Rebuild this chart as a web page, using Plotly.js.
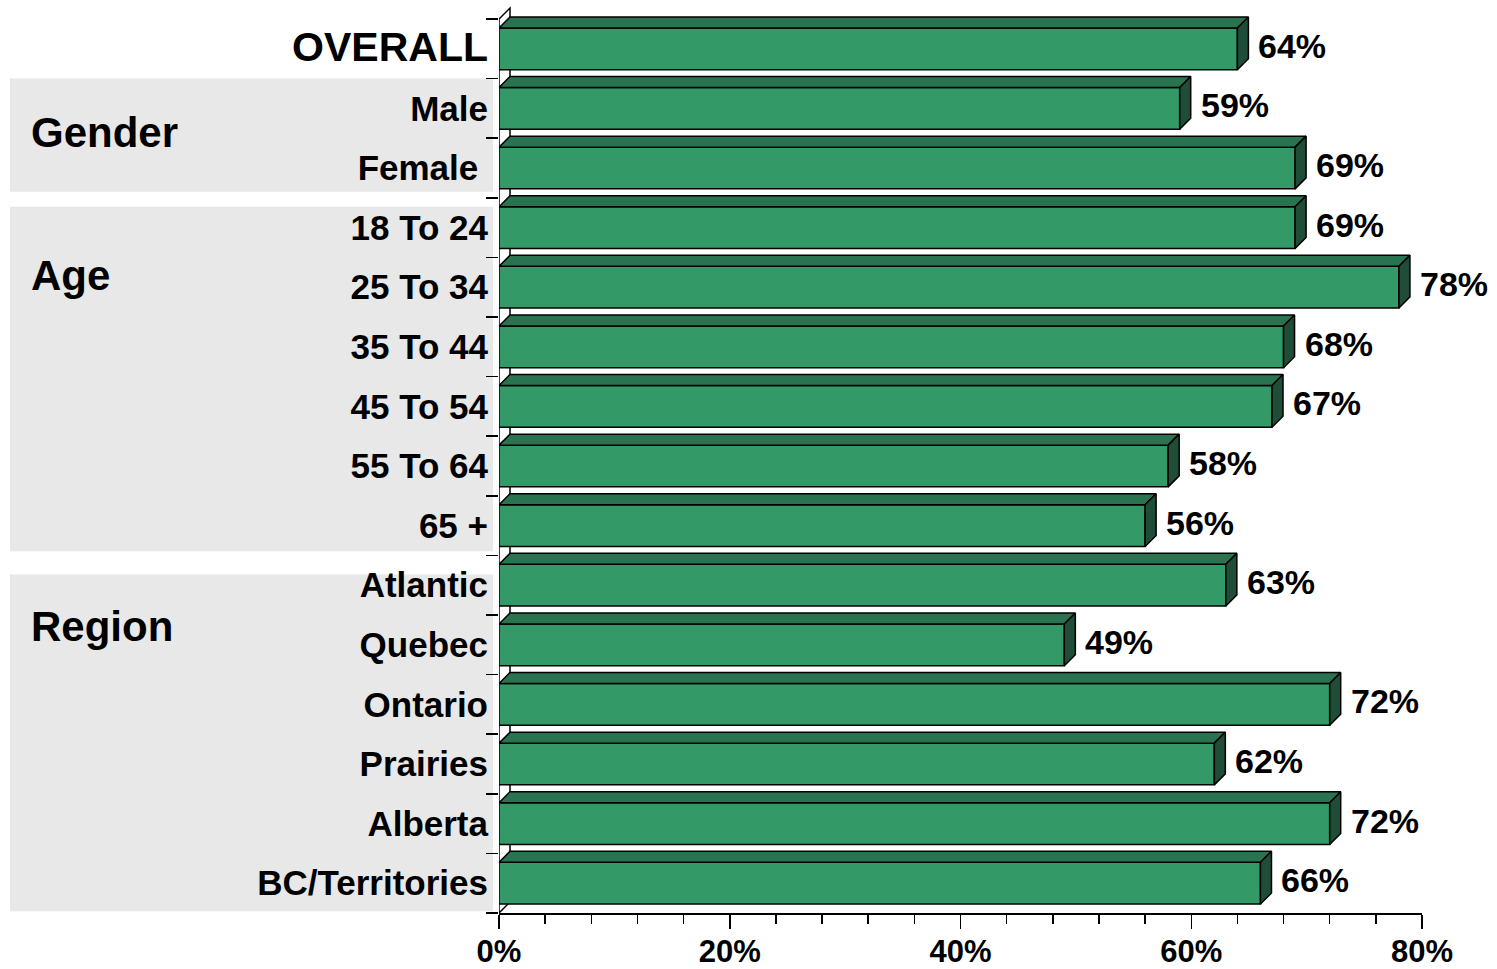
<!DOCTYPE html>
<html>
<head>
<meta charset="utf-8">
<script src="https://cdn.plot.ly/plotly-3.0.1.min.js"></script>
<style>html,body{margin:0;padding:0;background:#fff;}#chart{width:1497px;height:969px;}</style>
</head>
<body>
<div id="chart"></div>
<script>
// ---- data ----
const categories = ['OVERALL','Male','Female\u00a0','18 To 24','25 To 34','35 To 44','45 To 54','55 To 64','65 +','Atlantic','Quebec','Ontario','Prairies','Alberta','BC/Territories'];
const values = [64,59,69,69,78,68,67,58,56,63,49,72,62,72,66];
const valueLabels = ['64%','59%','69%','69%','78%','68%','67%','58%','56%','63%','49%','72%','62%','72%','66%'];
const groupNames = ['Gender','Age','Region'];
const groupFirst = [1,3,9];
const groupLast = [2,8,14];
const xTicks = [0,20,40,60,80];

// ---- layout geometry ----
const W = 1497, H = 969;
const M = {l:499, r:75, t:6, b:56};
const plotW = W - M.l - M.r;
const plotH = H - M.t - M.b;
const xMax = 80;
const yBottom = 14.5;
const unitY = 894/15;
const yTop = -0.5 - 13/unitY;
const depthPx = 11;
const dx = depthPx * xMax / plotW;
const dy = depthPx * (yBottom - yTop) / plotH;
const half = 0.35;
const FONT = 'Liberation Sans, Arial, sans-serif';

const idx = categories.map((c,i)=>i);

// 3D faces built from the data
const topX = [], topY = [], sideX = [], sideY = [];
values.forEach((v,i)=>{
  const yt = i - half, yb = i + half;
  topX.push(0, v, v+dx, dx, 0, null);
  topY.push(yt, yt, yt-dy, yt-dy, yt, null);
  sideX.push(v, v+dx, v+dx, v, v, null);
  sideY.push(yt, yt-dy, yb-dy, yb, yt, null);
});

const traces = [
  {type:'bar', orientation:'h', x:values, y:idx, width:0.7,
   marker:{color:'#339966', line:{color:'#000', width:1.5}}, hoverinfo:'skip'},
  {type:'scatter', mode:'lines', x:topX, y:topY, fill:'toself', fillcolor:'#2a7350',
   line:{color:'#000', width:1.5}, hoverinfo:'skip'},
  {type:'scatter', mode:'lines', x:sideX, y:sideY, fill:'toself', fillcolor:'#1f4d37',
   line:{color:'#000', width:1.5}, hoverinfo:'skip'}
];

const toPaperY = d => (yBottom - d)/(yBottom - yTop);
const pxToPaperX = px => (px - M.l)/plotW;

const shapes = [];
// grey group backgrounds
const padTop = [0.0, 0.15, 0.32], padBot = [0.1, 0.07, 0.03];
groupNames.forEach((g,k)=>{
  shapes.push({type:'rect', xref:'paper', yref:'paper', layer:'below',
    x0:pxToPaperX(10), x1:pxToPaperX(493),
    y0:toPaperY(groupFirst[k]-0.5+padTop[k]), y1:toPaperY(groupLast[k]+0.5-padBot[k]),
    fillcolor:'#e8e8e8', line:{width:0}});
});
// left 3D wall (also acts as the y axis line)
shapes.push({type:'path', xref:'x', yref:'y', layer:'below',
  path:`M 0 ${yBottom} L 0 -0.5 L ${dx} ${-0.5-dy} L ${dx} ${yBottom-dy} Z`,
  fillcolor:'#ffffff', line:{color:'#000', width:1.5}});

const annotations = [];
values.forEach((v,i)=>{
  annotations.push({x:v, y:i, xref:'x', yref:'y', text:valueLabels[i], showarrow:false,
    xanchor:'left', yanchor:'middle', xshift:19, yshift:3,
    font:{family:FONT, size:34, color:'#000', weight:700}});
});
const groupLabelOffset = [0.4, 0.8, 0.7];
groupNames.forEach((g,k)=>{
  annotations.push({x:pxToPaperX(29), y:groupFirst[k]+groupLabelOffset[k], xref:'paper', yref:'y',
    text:g, showarrow:false, xanchor:'left', yanchor:'middle',
    font:{family:FONT, size:42, color:'#000', weight:700}});
});

const tickText = categories.map((c,i)=> i===0 ? '<span style="font-size:41px">'+c+'</span>' : c);

const layout = {
  width:W, height:H, margin:M, showlegend:false,
  paper_bgcolor:'#fff', plot_bgcolor:'rgba(0,0,0,0)',
  font:{family:FONT, color:'#000'},
  xaxis:{range:[0,xMax], tickmode:'array', tickvals:xTicks, ticktext:xTicks.map(t=>t+'%'),
    showgrid:false, zeroline:false, showline:true, linecolor:'#000', linewidth:2,
    ticks:'outside', ticklen:14, tickwidth:1.5, tickcolor:'#000',
    minor:{tickmode:'linear', tick0:0, dtick:4, ticks:'outside', ticklen:9, tickwidth:1.5, tickcolor:'#000'},
    tickfont:{family:FONT, size:31, color:'#000', weight:700}, ticklabelstandoff:-4, fixedrange:true},
  yaxis:{range:[yBottom, yTop], tickmode:'array', tickvals:idx, ticktext:tickText,
    showgrid:false, zeroline:false, showline:false, ticks:'',
    minor:{tickmode:'linear', tick0:-0.5, dtick:1, ticks:'outside', ticklen:12, tickwidth:1.5, tickcolor:'#000'},
    tickfont:{family:FONT, size:35, color:'#000', weight:700}, ticklabelstandoff:10, fixedrange:true},
  shapes:shapes, annotations:annotations
};

Plotly.newPlot('chart', traces, layout, {staticPlot:true, displayModeBar:false});
</script>
</body>
</html>
